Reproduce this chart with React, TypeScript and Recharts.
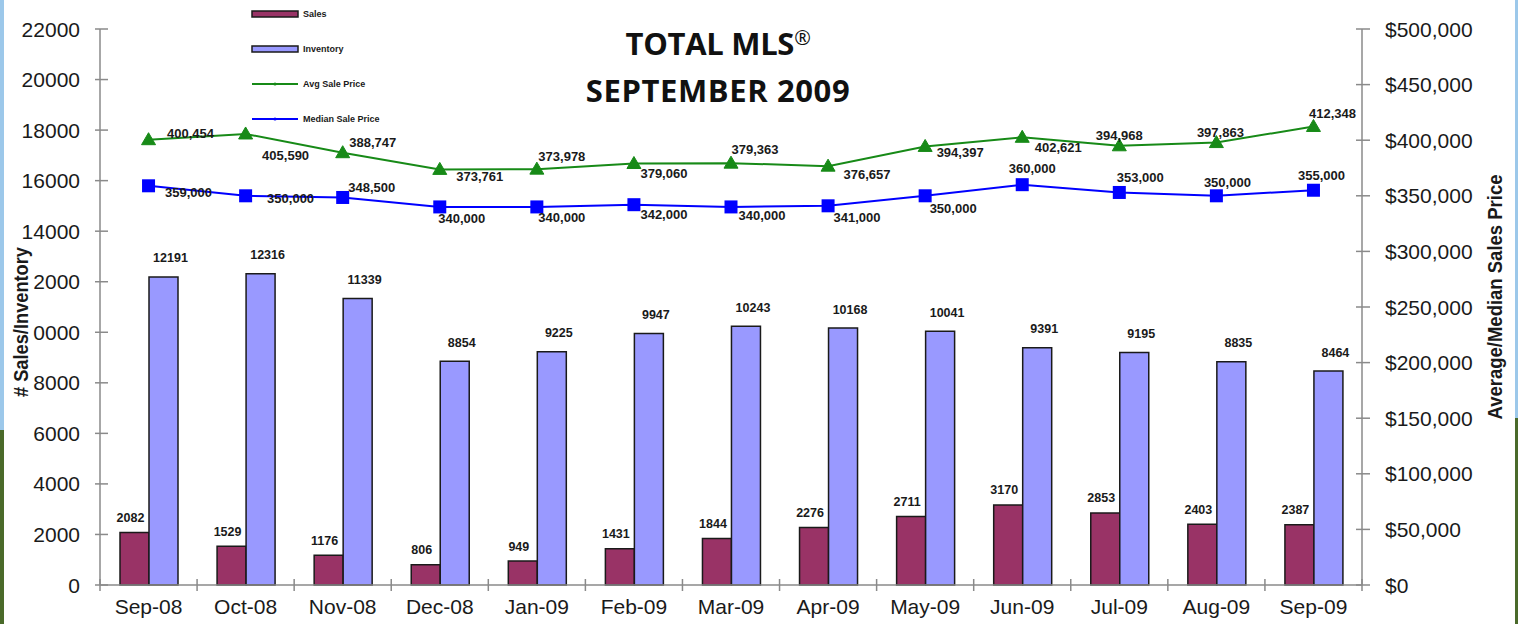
import React from 'react';
import { ComposedChart, Bar, Line, XAxis, YAxis, LabelList, Legend } from 'recharts';

const months = ['Sep-08', 'Oct-08', 'Nov-08', 'Dec-08', 'Jan-09', 'Feb-09', 'Mar-09', 'Apr-09', 'May-09', 'Jun-09', 'Jul-09', 'Aug-09', 'Sep-09'];
const sales = [2082, 1529, 1176, 806, 949, 1431, 1844, 2276, 2711, 3170, 2853, 2403, 2387];
const inventory = [12191, 12316, 11339, 8854, 9225, 9947, 10243, 10168, 10041, 9391, 9195, 8835, 8464];
const avgPrice = [400454, 405590, 388747, 373761, 373978, 379060, 379363, 376657, 394397, 402621, 394968, 397863, 412348];
const medianPrice = [359000, 350000, 348500, 340000, 340000, 342000, 340000, 341000, 350000, 360000, 353000, 350000, 355000];
const leftTicks = [0, 2000, 4000, 6000, 8000, 10000, 12000, 14000, 16000, 18000, 20000, 22000];
const rightTicks = [0, 50000, 100000, 150000, 200000, 250000, 300000, 350000, 400000, 450000, 500000];
const seriesNames = ['Sales', 'Inventory', 'Avg Sale Price', 'Median Sale Price'];
const titleMain = 'TOTAL MLS';
const titleMark = '\u00AE';
const titleSub = 'SEPTEMBER 2009';
const leftAxisTitle = '# Sales/Inventory';
const rightAxisTitle = 'Average/Median Sales Price';

// label offsets (dx, dy of label centre from the point)
const avgLabelOffset = [[42, -6], [40, 21], [30, -10], [40, 7], [25, -13], [30, 10], [24, -14], [39, 8], [35, 6], [36, 10], [0, -10], [4, -10], [19, -13]];
const medianLabelOffset = [[40, 7], [45, 3], [29, -10], [22, 11], [25, 10], [30, 10], [31, 8], [29, 12], [28, 13], [10, -16], [21, -15], [11, -13], [8, -15]];

const data = months.map((m, i) => ({
  month: m,
  sales: sales[i],
  inventory: inventory[i],
  avg: avgPrice[i],
  median: medianPrice[i],
}));

const FONT = '"Liberation Sans", Arial, sans-serif';
const AXIS = '#8a8a8a';
const SALES_C = '#993366';
const INV_C = '#9999ff';
const AVG_C = '#178a17';
const MED_C = '#0000ff';
const TICK_FS = 21;
const fmtMoney = (v: number) => '$' + v.toLocaleString('en-US');
const fmtNum = (v: number) => v.toLocaleString('en-US');

const LeftTick = (p: any) => {
  const { x, y, payload } = p;
  return (
    <g>
      <line x1={x - 5} x2={x + 8} y1={y} y2={y} stroke={AXIS} strokeWidth={1.5} />
      <text x={x - 20} y={y} dy="0.36em" textAnchor="end" fontFamily={FONT} fontSize={TICK_FS} fill="#1a1a1a">
        {payload.value}
      </text>
    </g>
  );
};

const RightTick = (p: any) => {
  const { x, y, payload } = p;
  return (
    <g>
      <line x1={x - 6} x2={x + 8} y1={y} y2={y} stroke={AXIS} strokeWidth={1.5} />
      <text x={x + 23} y={y} dy="0.36em" textAnchor="start" fontFamily={FONT} fontSize={TICK_FS} fill="#1a1a1a">
        {fmtMoney(payload.value)}
      </text>
    </g>
  );
};

const XTick = (p: any) => {
  const { x, y, payload, index, visibleTicksCount, width } = p;
  const band = width && visibleTicksCount ? width / visibleTicksCount : 97.1;
  return (
    <g>
      {index === 0 && <line x1={x - band / 2} x2={x - band / 2} y1={y - 6} y2={y + 6} stroke={AXIS} strokeWidth={1.5} />}
      <line x1={x + band / 2} x2={x + band / 2} y1={y - 6} y2={y + 6} stroke={AXIS} strokeWidth={1.5} />
      <text x={x} y={y} dy={29} textAnchor="middle" fontFamily={FONT} fontSize={TICK_FS} fill="#1a1a1a">
        {payload.value}
      </text>
    </g>
  );
};

const Triangle = (p: any) => {
  const { cx, cy } = p;
  if (cx == null || cy == null) return <g />;
  return <path d={`M${cx},${cy - 7} L${cx + 7},${cy + 5} L${cx - 7},${cy + 5} Z`} fill={AVG_C} stroke={AVG_C} strokeWidth={1} />;
};

const Square = (p: any) => {
  const { cx, cy } = p;
  if (cx == null || cy == null) return <g />;
  return <rect x={cx - 6.5} y={cy - 6.5} width={13} height={13} fill={MED_C} />;
};

const makeLineLabel = (offsets: number[][]) => (p: any) => {
  const { x, y, value, index } = p;
  const o = offsets[index] || [20, -12];
  return (
    <text x={x + o[0]} y={y + o[1]} dy="0.36em" textAnchor="middle" fontFamily={FONT} fontSize={13} fontWeight="bold" fill="#1a1a1a">
      {fmtNum(value)}
    </text>
  );
};

const makeBarLabel = (dx: number, dy: number) => (p: any) => {
  const { x, y, width, value } = p;
  return (
    <text x={x + width / 2 + dx} y={y - dy} dy="0.36em" textAnchor="middle" fontFamily={FONT} fontSize={12.5} fontWeight="bold" fill="#1a1a1a">
      {value}
    </text>
  );
};

const LegendContent = () => {
  const rows = [14, 49, 84, 119];
  return (
    <svg width={170} height={130} style={{ display: 'block' }}>
      {seriesNames.map((name, i) => {
        const cy = rows[i];
        let sw;
        if (i === 0 || i === 1) {
          sw = <rect x={4} y={cy - 3} width={46} height={6} fill={i === 0 ? SALES_C : INV_C} stroke="#1a1a1a" strokeWidth={1.5} />;
        } else {
          const c = i === 2 ? AVG_C : MED_C;
          sw = (
            <g>
              <line x1={4} x2={50} y1={cy} y2={cy} stroke={c} strokeWidth={1.8} />
              <circle cx={27} cy={cy} r={1.6} fill={c} />
            </g>
          );
        }
        return (
          <g key={name}>
            {sw}
            <text x={55} y={cy} dy="0.36em" fontFamily={FONT} fontSize={9} fontWeight="bold" fill="#1a1a1a">
              {name}
            </text>
          </g>
        );
      })}
    </svg>
  );
};

export default function App() {
  return (
    <div style={{ position: 'absolute', left: 0, top: 0, width: 1518, height: 624, background: '#ffffff', overflow: 'hidden' }}>
      <div style={{ position: 'absolute', left: 0, top: 0, width: 4, height: 430, background: '#9cc8ea' }} />
      <div style={{ position: 'absolute', left: 0, top: 430, width: 4, height: 194, background: '#4a6a2a' }} />
      <div style={{ position: 'absolute', right: 0, top: 0, width: 3, height: 418, background: '#9cc8ea' }} />
      <div style={{ position: 'absolute', right: 0, top: 418, width: 3, height: 206, background: '#4a6a2a' }} />
      <ComposedChart
        width={1518}
        height={624}
        data={data}
        margin={{ top: 29, right: 0, bottom: 0, left: 0 }}
        barGap={0}
        barSize={29}
      >
        <XAxis
          dataKey="month"
          height={39}
          tickSize={0}
          tickMargin={0}
          tickLine={false}
          axisLine={{ stroke: AXIS, strokeWidth: 1.5 }}
          tick={<XTick />}
          interval={0}
        />
        <YAxis
          yAxisId="left"
          orientation="left"
          width={100}
          domain={[0, 22000]}
          ticks={leftTicks}
          interval={0}
          tickSize={0}
          tickMargin={0}
          tickLine={false}
          axisLine={{ stroke: AXIS, strokeWidth: 1.5 }}
          tick={<LeftTick />}
        />
        <YAxis
          yAxisId="right"
          orientation="right"
          width={156}
          domain={[0, 500000]}
          ticks={rightTicks}
          interval={0}
          tickSize={0}
          tickMargin={0}
          tickLine={false}
          axisLine={{ stroke: AXIS, strokeWidth: 1.5 }}
          tick={<RightTick />}
        />
        <Legend
          layout="vertical"
          align="center"
          verticalAlign="middle"
          content={<LegendContent />}
          wrapperStyle={{ position: 'absolute', top: 0, left: 248, width: 170, height: 130 }}
        />
        <Bar yAxisId="left" dataKey="sales" name={seriesNames[0]} fill={SALES_C} stroke="#1a1a1a" strokeWidth={1.5} isAnimationActive={false}>
          <LabelList dataKey="sales" content={makeBarLabel(-4, 15)} />
        </Bar>
        <Bar yAxisId="left" dataKey="inventory" name={seriesNames[1]} fill={INV_C} stroke="#1a1a1a" strokeWidth={1.5} isAnimationActive={false}>
          <LabelList dataKey="inventory" content={makeBarLabel(7, 19)} />
        </Bar>
        <Line yAxisId="right" dataKey="avg" name={seriesNames[2]} stroke={AVG_C} strokeWidth={2} dot={<Triangle />} activeDot={false} isAnimationActive={false}>
          <LabelList dataKey="avg" content={makeLineLabel(avgLabelOffset)} />
        </Line>
        <Line yAxisId="right" dataKey="median" name={seriesNames[3]} stroke={MED_C} strokeWidth={2} dot={<Square />} activeDot={false} isAnimationActive={false}>
          <LabelList dataKey="median" content={makeLineLabel(medianLabelOffset)} />
        </Line>
      </ComposedChart>
      <svg width={1518} height={624} style={{ position: 'absolute', left: 0, top: 0, pointerEvents: 'none' }}>
        <rect x={9} y={244} width={24} height={156} fill="#ffffff" />
        <text
          x={21}
          y={322}
          transform="rotate(-90 21 322)"
          dy="0.36em"
          textAnchor="middle"
          fontFamily={FONT}
          fontSize={20}
          fontWeight="bold"
          fill="#1a1a1a"
          textLength={150}
          lengthAdjust="spacingAndGlyphs"
        >
          {leftAxisTitle}
        </text>
        <text
          x={1495}
          y={297}
          transform="rotate(-90 1495 297)"
          dy="0.36em"
          textAnchor="middle"
          fontFamily={FONT}
          fontSize={20}
          fontWeight="bold"
          fill="#1a1a1a"
          textLength={245}
          lengthAdjust="spacingAndGlyphs"
        >
          {rightAxisTitle}
        </text>
      </svg>
      <div
        style={{
          position: 'absolute',
          left: 560,
          top: 20,
          width: 316,
          textAlign: 'center',
          fontFamily: '"Open Sans", "Noto Sans", sans-serif',
          fontWeight: 700,
          fontSize: 31,
          lineHeight: '47px',
          color: '#111111',
          pointerEvents: 'none',
        }}
      >
        <div style={{ letterSpacing: '-0.3px', height: 47 }}>
          {titleMain}
          <span style={{ fontSize: 20, position: 'relative', top: -10, fontWeight: 400 }}>{titleMark}</span>
        </div>
        <div style={{ letterSpacing: '0.6px' }}>{titleSub}</div>
      </div>
    </div>
  );
}
